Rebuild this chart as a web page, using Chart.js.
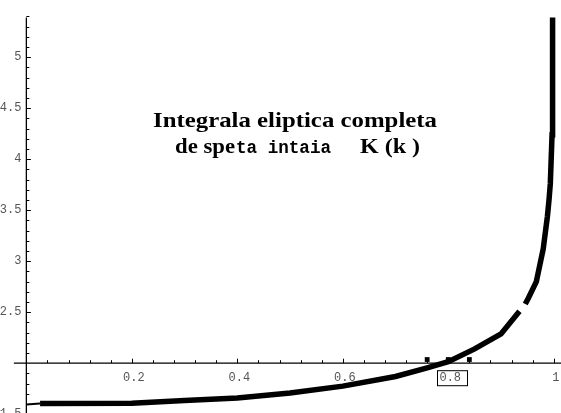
<!DOCTYPE html>
<html>
<head>
<meta charset="utf-8">
<script src="https://cdn.jsdelivr.net/npm/chart.js@4.4.0/dist/chart.umd.min.js"></script>
<style>
  html, body { margin: 0; padding: 0; background: #fff; }
</style>
</head>
<body>
<canvas id="chart" width="561" height="413"></canvas>
<script>
// curve K(k) (null = the small break in the line)
const kValues = [0, 0.026, 0.2, 0.3, 0.4, 0.5, 0.6, 0.7, 0.76, 0.8, 0.85, 0.9, 0.935, 0.94, 0.946, 0.952, 0.967, 0.98, 0.988, 0.991, 0.9935, 0.9968, 0.9978, 0.9978];
const KValues = [1.595, 1.606, 1.607, 1.635, 1.66, 1.708, 1.775, 1.87, 1.955, 2.015, 2.14, 2.287, 2.51, null, 2.58, 2.64, 2.80, 3.12, 3.44, 3.60, 3.76, 4.24, 4.56, 5.39];

// small square marks sitting on the k axis
const markerK = [0.76, 0.8, 0.84];
const markerY = [2.036, 2.036, 2.036];

// ticks
const xMajorTicks = [0.2, 0.4, 0.6, 0.8, 1];
const xTickLabels = ['0.2', '0.4', '0.6', '0.8', '1'];
const yMajorTicks = [1.5, 2.5, 3, 3.5, 4, 4.5, 5];
const yTickLabels = ['1.5', '2.5', '3', '3.5', '4', '4.5', '5'];
const boxedLabel = '0.8';

const titleLine1 = 'Integrala eliptica completa';
const titleLine2a = 'de spe';
const titleLine2b = 'ta intaia';
const titleLine2c = 'K (k )';

const curve = kValues.map((k, i) => ({ x: k, y: KValues[i] }));
const markers = markerK.map((k, i) => ({ x: k, y: markerY[i] }));

// draw text stretched horizontally to a given width
function fitText(ctx, text, font, x, y, width) {
  ctx.save();
  ctx.font = font;
  const sx = width / ctx.measureText(text).width;
  ctx.translate(x, y);
  ctx.scale(sx, 1);
  ctx.fillText(text, 0, 0);
  ctx.restore();
}

const mathAxes = {
  id: 'mathAxes',
  beforeDatasetsDraw(chart) {
    const { ctx, scales: { x, y } } = chart;
    const x0 = x.getPixelForValue(0);
    const y0 = y.getPixelForValue(2);
    ctx.save();
    ctx.strokeStyle = '#000';
    ctx.lineWidth = 1.3;
    ctx.beginPath();
    ctx.moveTo(x.getPixelForValue(-0.0237), y0);
    ctx.lineTo(chart.width, y0);
    ctx.moveTo(x0, y.getPixelForValue(5.39));
    ctx.lineTo(x0, chart.height);
    ctx.stroke();

    // tick marks
    ctx.lineWidth = 1;
    ctx.beginPath();
    for (let i = 1; i <= 25; i++) {
      const px = Math.round(x.getPixelForValue(i * 0.04)) + 0.5;
      const len = (i % 5 === 0) ? 4.5 : 3;
      ctx.moveTo(px, y0);
      ctx.lineTo(px, y0 - len);
    }
    for (let i = 15; i <= 54; i++) {
      if (i === 20) continue;
      const py = Math.round(y.getPixelForValue(i / 10)) + 0.5;
      const len = (i % 5 === 0) ? 4.5 : 3;
      ctx.moveTo(x0, py);
      ctx.lineTo(x0 + len, py);
    }
    ctx.stroke();

    // tick labels
    ctx.fillStyle = '#555';
    ctx.font = '12px "Liberation Mono"';
    ctx.textBaseline = 'middle';
    ctx.textAlign = 'center';
    xMajorTicks.forEach((v, i) => {
      const px = x.getPixelForValue(v) + 2;
      ctx.fillText(xTickLabels[i], px, y0 + 15);
      if (xTickLabels[i] === boxedLabel) {
        ctx.strokeStyle = '#000';
        ctx.strokeRect(Math.round(px) - 12.5, y0 + 7.5, 30, 15);
      }
    });
    ctx.textAlign = 'right';
    yMajorTicks.forEach((v, i) => {
      ctx.fillText(yTickLabels[i], x0 - 5, y.getPixelForValue(v));
    });
    ctx.restore();
  },
  afterDraw(chart) {
    const { ctx } = chart;
    const serif = 'bold 22px "Liberation Serif"';
    const mono = 'bold 19px "Liberation Mono"';
    ctx.save();
    ctx.fillStyle = '#000';
    ctx.textBaseline = 'alphabetic';
    ctx.textAlign = 'left';
    fitText(ctx, titleLine1, serif, 153, 127, 284);
    fitText(ctx, titleLine2a, serif, 175, 153, 60);
    fitText(ctx, titleLine2b, mono, 236, 153, 95);
    fitText(ctx, titleLine2c, serif, 360, 153, 60);
    ctx.restore();
  }
};

new Chart(document.getElementById('chart'), {
  type: 'line',
  data: {
    datasets: [
      {
        data: curve,
        order: 1,
        borderColor: '#000',
        borderWidth: 5.5,
        borderCapStyle: 'butt',
        pointRadius: 0,
        tension: 0,
        spanGaps: false,
        segment: {
          borderWidth: c => c.p0DataIndex === 0 ? 2 : 5.5
        }
      },
      {
        data: markers,
        order: 0,
        showLine: false,
        pointStyle: 'rect',
        pointRadius: 3.4,
        backgroundColor: '#000',
        borderColor: '#000',
        borderWidth: 0
      }
    ]
  },
  options: {
    responsive: false,
    animation: false,
    devicePixelRatio: 1,
    layout: { padding: 0 },
    plugins: { legend: { display: false }, tooltip: { enabled: false }, title: { display: false } },
    scales: {
      x: { type: 'linear', min: -0.0424, max: 1.00617, display: false },
      y: { type: 'linear', min: 1.551, max: 5.522, display: false }
    }
  },
  plugins: [mathAxes]
});
</script>
</body>
</html>
